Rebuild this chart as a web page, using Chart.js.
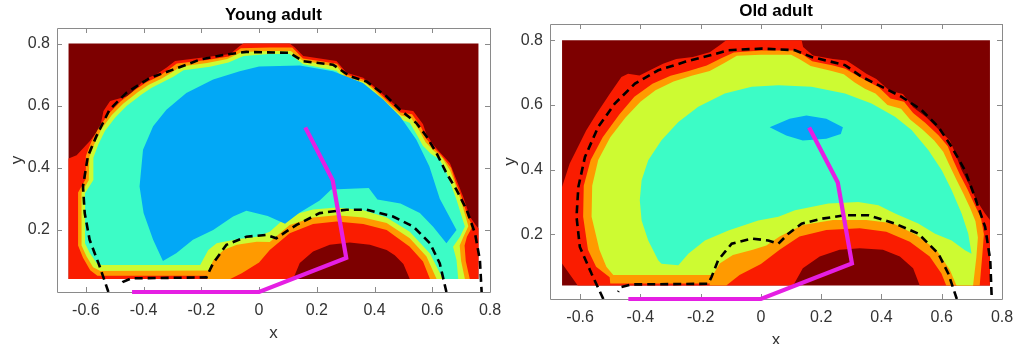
<!DOCTYPE html>
<html>
<head>
<meta charset="utf-8">
<script src="https://cdn.jsdelivr.net/npm/chart.js@4.4.1/dist/chart.umd.min.js"></script>
<style>
  html, body { margin: 0; padding: 0; background: #fff; }
  #wrap { position: relative; width: 1024px; height: 344px; overflow: hidden; }
  canvas { position: absolute; top: 0; }
  #young { left: 0; }
  #old { left: 496px; }
</style>
</head>
<body>
<div id="wrap">
  <canvas id="young" width="512" height="344"></canvas>
  <canvas id="old" width="528" height="344"></canvas>
</div>
<script>
// axis ticks
const xTicks = [-0.6, -0.4, -0.2, 0, 0.2, 0.4, 0.6, 0.8];
const yTicks = [0.2, 0.4, 0.6, 0.8];

// rectangle covered by the contour grid
const field = [[-0.66, 0.042], [-0.66, 0.8], [0.76, 0.8], [0.76, 0.042]];

// arm path (same on both panels)
const arm = [[0.16, 0.53], [0.255, 0.36], [0.302, 0.11], [0, 0], [-0.44, 0]];

// ---- Young adult: filled contour levels (outer to inner) ----
const youngRed = [[-0.66,0.43],[-0.632,0.44],[-0.586,0.486],[-0.551,0.529],[-0.539,0.583],[-0.516,0.615],[-0.453,0.631],[-0.424,0.658],[-0.395,0.685],[-0.355,0.701],[-0.32,0.723],[-0.291,0.744],[-0.181,0.757],[-0.10,0.766],[-0.066,0.793],[-0.054,0.80],[0.106,0.80],[0.124,0.787],[0.153,0.760],[0.268,0.744],[0.303,0.706],[0.361,0.690],[0.395,0.664],[0.442,0.626],[0.488,0.588],[0.534,0.583],[0.568,0.540],[0.580,0.507],[0.603,0.475],[0.626,0.45],[0.661,0.415],[0.684,0.361],[0.707,0.307],[0.730,0.243],[0.754,0.211],[0.76,0.205],[0.76,0.042],[0.522,0.042],[0.50,0.09],[0.47,0.118],[0.442,0.135],[0.384,0.152],[0.314,0.159],[0.245,0.152],[0.187,0.130],[0.141,0.093],[0.118,0.042],[-0.66,0.042]];
const youngOrange = [[-0.56,0.052],[-0.585,0.07],[-0.61,0.11],[-0.627,0.15],[-0.627,0.32],[-0.60,0.365],[-0.60,0.438],[-0.582,0.482],[-0.556,0.528],[-0.52,0.575],[-0.48,0.613],[-0.43,0.65],[-0.39,0.675],[-0.35,0.693],[-0.315,0.715],[-0.285,0.736],[-0.18,0.747],[-0.105,0.758],[-0.063,0.785],[0.037,0.787],[0.115,0.787],[0.152,0.752],[0.27,0.735],[0.302,0.70],[0.363,0.683],[0.398,0.656],[0.445,0.616],[0.49,0.578],[0.53,0.572],[0.562,0.53],[0.578,0.495],[0.604,0.465],[0.631,0.44],[0.665,0.40],[0.682,0.352],[0.702,0.305],[0.722,0.245],[0.74,0.212],[0.72,0.178],[0.712,0.15],[0.716,0.10],[0.73,0.042],[0.592,0.042],[0.568,0.098],[0.522,0.146],[0.442,0.2],[0.361,0.219],[0.268,0.227],[0.187,0.219],[0.106,0.189],[0.037,0.135],[0.0,0.095],[-0.06,0.06],[-0.10,0.042],[-0.18,0.042],[-0.18,0.052]];
const youngYellow = [[-0.55,0.068],[-0.575,0.08],[-0.598,0.115],[-0.615,0.15],[-0.615,0.32],[-0.590,0.36],[-0.588,0.435],[-0.570,0.478],[-0.546,0.525],[-0.51,0.57],[-0.47,0.607],[-0.418,0.645],[-0.382,0.667],[-0.34,0.686],[-0.305,0.705],[-0.272,0.726],[-0.18,0.737],[-0.11,0.750],[-0.06,0.773],[0.037,0.776],[0.11,0.776],[0.15,0.745],[0.27,0.725],[0.30,0.692],[0.365,0.676],[0.40,0.648],[0.447,0.606],[0.492,0.568],[0.527,0.56],[0.555,0.52],[0.577,0.482],[0.605,0.455],[0.636,0.43],[0.662,0.39],[0.68,0.345],[0.697,0.3],[0.715,0.245],[0.725,0.212],[0.708,0.178],[0.695,0.15],[0.700,0.10],[0.713,0.042],[0.615,0.042],[0.580,0.114],[0.522,0.173],[0.442,0.222],[0.361,0.240],[0.268,0.247],[0.187,0.240],[0.106,0.216],[0.037,0.161],[-0.008,0.162],[-0.077,0.152],[-0.123,0.135],[-0.158,0.103],[-0.175,0.069]];
const youngAqua = [[-0.545,0.087],[-0.563,0.093],[-0.586,0.125],[-0.603,0.157],[-0.603,0.318],[-0.574,0.361],[-0.574,0.432],[-0.557,0.475],[-0.534,0.518],[-0.499,0.561],[-0.459,0.599],[-0.407,0.636],[-0.372,0.658],[-0.331,0.677],[-0.297,0.693],[-0.262,0.714],[-0.17,0.725],[-0.106,0.739],[-0.054,0.760],[0.037,0.766],[0.106,0.766],[0.153,0.733],[0.268,0.712],[0.303,0.68],[0.361,0.664],[0.395,0.637],[0.442,0.594],[0.488,0.556],[0.522,0.545],[0.546,0.507],[0.568,0.47],[0.595,0.445],[0.626,0.426],[0.65,0.383],[0.667,0.34],[0.684,0.297],[0.702,0.243],[0.713,0.211],[0.696,0.178],[0.672,0.146],[0.684,0.103],[0.69,0.042],[0.637,0.042],[0.592,0.124],[0.522,0.194],[0.442,0.240],[0.361,0.263],[0.268,0.272],[0.187,0.266],[0.096,0.243],[0.037,0.194],[-0.008,0.178],[-0.077,0.170],[-0.147,0.157],[-0.176,0.135],[-0.204,0.087]];
const youngBlue = [[-0.333,0.10],[-0.367,0.168],[-0.40,0.254],[-0.414,0.34],[-0.402,0.458],[-0.367,0.534],[-0.321,0.587],[-0.252,0.641],[-0.159,0.684],[-0.067,0.711],[0.0,0.726],[0.141,0.729],[0.256,0.711],[0.36,0.673],[0.43,0.62],[0.488,0.566],[0.545,0.49],[0.59,0.404],[0.626,0.30],[0.684,0.2],[0.649,0.157],[0.603,0.21],[0.557,0.254],[0.49,0.285],[0.41,0.298],[0.38,0.335],[0.25,0.33],[0.21,0.295],[0.14,0.255],[0.09,0.22],[0.03,0.245],[-0.044,0.262],[-0.09,0.243],[-0.159,0.2],[-0.229,0.168],[-0.287,0.125]];
// boundary contour (dashed)
const youngDashOuter = [[-0.522,0.0],[-0.552,0.082],[-0.587,0.168],[-0.604,0.254],[-0.61,0.34],[-0.593,0.437],[-0.564,0.501],[-0.518,0.587],[-0.46,0.641],[-0.379,0.689],[-0.298,0.716],[-0.206,0.748],[-0.113,0.765],[-0.044,0.773],[0.106,0.77],[0.153,0.743],[0.256,0.732],[0.314,0.695],[0.372,0.678],[0.441,0.63],[0.488,0.587],[0.545,0.544],[0.58,0.501],[0.615,0.447],[0.649,0.383],[0.684,0.329],[0.719,0.265],[0.748,0.189],[0.765,0.103],[0.771,0.0]];
const youngDashInner = [[0.649,0.0],[0.626,0.092],[0.592,0.157],[0.534,0.211],[0.464,0.243],[0.372,0.265],[0.303,0.265],[0.21,0.254],[0.13,0.216],[0.095,0.195],[0.06,0.173],[0.026,0.184],[-0.044,0.178],[-0.113,0.152],[-0.159,0.093],[-0.18,0.052],[-0.182,0.047],[-0.442,0.044],[-0.471,0.033],[-0.485,0.02]];

// ---- Old adult ----
const oldRed = [[-0.66,0.346],[-0.635,0.418],[-0.613,0.459],[-0.58,0.521],[-0.546,0.572],[-0.502,0.634],[-0.463,0.686],[-0.441,0.696],[-0.403,0.691],[-0.37,0.706],[-0.325,0.727],[-0.281,0.742],[-0.226,0.748],[-0.170,0.763],[-0.137,0.784],[-0.115,0.80],[0.135,0.80],[0.14,0.779],[0.173,0.753],[0.239,0.742],[0.284,0.737],[0.317,0.717],[0.35,0.696],[0.383,0.68],[0.427,0.644],[0.471,0.634],[0.505,0.593],[0.549,0.562],[0.593,0.521],[0.627,0.49],[0.645,0.45],[0.665,0.40],[0.69,0.355],[0.715,0.306],[0.743,0.265],[0.76,0.244],[0.76,0.042],[0.527,0.042],[0.505,0.095],[0.461,0.131],[0.405,0.152],[0.328,0.157],[0.261,0.152],[0.195,0.131],[0.139,0.095],[0.107,0.042],[-0.608,0.042],[-0.66,0.110]];
const oldOrange = [[-0.50,0.048],[-0.502,0.067],[-0.547,0.10],[-0.574,0.152],[-0.59,0.254],[-0.588,0.35],[-0.565,0.43],[-0.525,0.50],[-0.47,0.57],[-0.42,0.625],[-0.36,0.665],[-0.30,0.69],[-0.24,0.705],[-0.18,0.722],[-0.13,0.745],[-0.09,0.762],[0.0,0.768],[0.11,0.768],[0.14,0.755],[0.17,0.735],[0.24,0.722],[0.28,0.712],[0.32,0.69],[0.355,0.672],[0.39,0.655],[0.43,0.62],[0.475,0.61],[0.505,0.575],[0.545,0.545],[0.59,0.505],[0.62,0.472],[0.638,0.43],[0.66,0.385],[0.685,0.34],[0.71,0.29],[0.73,0.25],[0.74,0.20],[0.735,0.14],[0.726,0.042],[0.615,0.042],[0.599,0.079],[0.56,0.131],[0.494,0.177],[0.416,0.208],[0.328,0.219],[0.217,0.213],[0.128,0.193],[0.062,0.152],[0.0,0.108],[-0.071,0.074],[-0.115,0.042],[-0.17,0.042],[-0.17,0.048]];
const oldYellow = [[-0.49,0.074],[-0.513,0.10],[-0.536,0.152],[-0.562,0.254],[-0.56,0.35],[-0.54,0.43],[-0.50,0.50],[-0.45,0.56],[-0.40,0.61],[-0.35,0.645],[-0.29,0.672],[-0.23,0.69],[-0.17,0.705],[-0.12,0.73],[-0.08,0.752],[0.0,0.755],[0.10,0.755],[0.13,0.74],[0.165,0.72],[0.235,0.705],[0.275,0.695],[0.31,0.67],[0.345,0.65],[0.38,0.635],[0.42,0.60],[0.465,0.588],[0.495,0.555],[0.535,0.525],[0.575,0.49],[0.605,0.455],[0.625,0.415],[0.648,0.37],[0.672,0.325],[0.695,0.28],[0.712,0.24],[0.72,0.19],[0.715,0.13],[0.704,0.042],[0.649,0.042],[0.627,0.09],[0.582,0.152],[0.516,0.198],[0.438,0.234],[0.35,0.244],[0.239,0.244],[0.139,0.229],[0.062,0.193],[0.018,0.165],[-0.027,0.152],[-0.093,0.136],[-0.137,0.110],[-0.159,0.074]];
const oldAqua = [[-0.33,0.109],[-0.341,0.12],[-0.374,0.181],[-0.396,0.243],[-0.402,0.305],[-0.396,0.367],[-0.374,0.429],[-0.33,0.491],[-0.274,0.547],[-0.208,0.594],[-0.12,0.635],[-0.031,0.656],[0.058,0.661],[0.168,0.656],[0.279,0.635],[0.367,0.604],[0.445,0.563],[0.5,0.522],[0.556,0.46],[0.6,0.398],[0.633,0.336],[0.666,0.264],[0.688,0.202],[0.699,0.14],[0.677,0.151],[0.633,0.181],[0.578,0.202],[0.522,0.233],[0.445,0.264],[0.39,0.29],[0.323,0.3],[0.224,0.295],[0.113,0.274],[0.058,0.254],[-0.009,0.243],[-0.108,0.212],[-0.186,0.181],[-0.241,0.14],[-0.274,0.104]];
const oldBlue = [[0.029,0.531],[0.095,0.557],[0.151,0.567],[0.217,0.557],[0.272,0.531],[0.265,0.51],[0.217,0.495],[0.139,0.49],[0.084,0.505]];
const oldDashOuter = [[-0.523,0.0],[-0.562,0.078],[-0.601,0.161],[-0.612,0.254],[-0.606,0.346],[-0.584,0.439],[-0.540,0.532],[-0.485,0.604],[-0.418,0.666],[-0.341,0.707],[-0.252,0.733],[-0.164,0.754],[-0.108,0.769],[0.002,0.774],[0.113,0.769],[0.168,0.748],[0.279,0.723],[0.334,0.687],[0.39,0.661],[0.467,0.625],[0.533,0.584],[0.589,0.532],[0.633,0.47],[0.677,0.398],[0.71,0.315],[0.744,0.223],[0.761,0.12],[0.766,0.0]];
const oldDashInner = [[0.65,0.0],[0.622,0.078],[0.589,0.14],[0.522,0.202],[0.445,0.233],[0.356,0.259],[0.279,0.259],[0.201,0.248],[0.135,0.233],[0.091,0.202],[0.058,0.171],[0.024,0.181],[-0.031,0.187],[-0.097,0.171],[-0.142,0.12],[-0.164,0.068],[-0.175,0.047],[-0.429,0.045],[-0.463,0.037],[-0.474,0.022]];

// jet-like level colours
const levelColors = {
  bg: '#7d0000',
  red: '#fa1c00',
  orange: '#ff9a00',
  yellow: '#cdfb32',
  aqua: '#3cfcc6',
  blue: '#02a8f6'
};

const toXY = (arr) => arr.map(([x, y]) => ({ x, y }));

// fills scatter datasets flagged as polygons, using the points the scales placed
const polygonFill = {
  id: 'polygonFill',
  beforeDatasetDraw(chart, args) {
    const ds = chart.data.datasets[args.index];
    if (!ds.polygon) return;
    const pts = args.meta.data;
    const { ctx, chartArea: a } = chart;
    ctx.save();
    ctx.beginPath();
    ctx.rect(a.left, a.top, a.right - a.left, a.bottom - a.top);
    ctx.clip();
    ctx.beginPath();
    pts.forEach((p, i) => (i ? ctx.lineTo(p.x, p.y) : ctx.moveTo(p.x, p.y)));
    ctx.closePath();
    ctx.fillStyle = ds.backgroundColor;
    ctx.fill();
    ctx.restore();
  }
};

// box, inward ticks and the titles
const frame = {
  id: 'frame',
  beforeDatasetsDraw(chart, args, opts) {
    const { ctx, chartArea: a, scales } = chart;
    ctx.save();
    ctx.strokeStyle = '#8a8a8a';
    ctx.lineWidth = 1;
    ctx.beginPath();
    ctx.rect(Math.round(a.left) + 0.5, Math.round(a.top) + 0.5,
      Math.round(a.right - a.left), Math.round(a.bottom - a.top));
    const tl = 5;
    xTicks.forEach((v) => {
      const px = Math.round(scales.x.getPixelForValue(v)) + 0.5;
      ctx.moveTo(px, a.bottom); ctx.lineTo(px, a.bottom - tl);
      ctx.moveTo(px, a.top); ctx.lineTo(px, a.top + tl);
    });
    yTicks.forEach((v) => {
      const py = Math.round(scales.y.getPixelForValue(v)) + 0.5;
      ctx.moveTo(a.left, py); ctx.lineTo(a.left + tl, py);
      ctx.moveTo(a.right, py); ctx.lineTo(a.right - tl, py);
    });
    ctx.stroke();
    ctx.restore();
  },
  afterDraw(chart, args, opts) {
    const { ctx, chartArea: a } = chart;
    const cx = (a.left + a.right) / 2;
    ctx.save();
    ctx.textAlign = 'center';
    ctx.textBaseline = 'middle';
    ctx.fillStyle = '#000';
    ctx.font = 'bold 17px "Liberation Sans", Arial, sans-serif';
    ctx.fillText(opts.title, cx, a.top - 13);
    ctx.fillStyle = '#333';
    ctx.font = '17px "Liberation Sans", Arial, sans-serif';
    ctx.fillText('x', cx, a.bottom + 41);
    ctx.translate(a.left - 40, (a.top + a.bottom) / 2);
    ctx.rotate(-Math.PI / 2);
    ctx.fillText('y', 0, 0);
    ctx.restore();
  }
};

function polygon(data, color, order) {
  return {
    data: toXY(data), polygon: true, backgroundColor: color,
    showLine: false, pointRadius: 0, pointHoverRadius: 0, order
  };
}

function dashed(data) {
  return {
    data: toXY(data), showLine: true, borderColor: '#000', borderWidth: 2.6,
    borderDash: [8, 5], pointRadius: 0, pointHoverRadius: 0, fill: false, order: 1
  };
}

function makePanel(id, title, layers, dashes, pad) {
  const tickFont = { family: '"Liberation Sans", Arial, sans-serif', size: 16 };
  const datasets = [
    polygon(field, levelColors.bg, 10),
    polygon(layers.red, levelColors.red, 9),
    polygon(layers.orange, levelColors.orange, 8),
    polygon(layers.yellow, levelColors.yellow, 7),
    polygon(layers.aqua, levelColors.aqua, 6),
    polygon(layers.blue, levelColors.blue, 5),
    dashed(dashes[0]),
    dashed(dashes[1]),
    {
      data: toXY(arm), showLine: true, borderColor: '#e51fe3', borderWidth: 4.2,
      pointRadius: 0, pointHoverRadius: 0, fill: false, clip: false, order: 0
    }
  ];
  return new Chart(document.getElementById(id), {
    type: 'scatter',
    data: { datasets },
    plugins: [polygonFill, frame],
    options: {
      responsive: false,
      animation: false,
      events: [],
      layout: { padding: { top: pad.top, right: pad.right, left: 0, bottom: 0 } },
      plugins: {
        legend: { display: false },
        tooltip: { enabled: false },
        frame: { title }
      },
      scales: {
        x: {
          type: 'linear', min: -0.7, max: 0.8,
          afterBuildTicks: (s) => { s.ticks = xTicks.map((v) => ({ value: v })); },
          afterFit: (s) => { s.height = pad.xh; },
          grid: { display: false, drawTicks: false },
          border: { display: false },
          ticks: {
            font: tickFont, color: '#333', padding: 9, maxRotation: 0,
            callback: (v) => String(Math.round(v * 10) / 10)
          }
        },
        y: {
          type: 'linear', min: 0, max: 0.85,
          afterBuildTicks: (s) => { s.ticks = yTicks.map((v) => ({ value: v })); },
          afterFit: (s) => { s.width = pad.yw; },
          grid: { display: false, drawTicks: false },
          border: { display: false },
          ticks: {
            font: tickFont, color: '#333', padding: 7,
            callback: (v) => String(Math.round(v * 10) / 10)
          }
        }
      }
    }
  });
}

makePanel('young', 'Young adult',
  { red: youngRed, orange: youngOrange, yellow: youngYellow, aqua: youngAqua, blue: youngBlue },
  [youngDashOuter, youngDashInner],
  { top: 28, right: 22, xh: 52, yw: 57 });

makePanel('old', 'Old adult',
  { red: oldRed, orange: oldOrange, yellow: oldYellow, aqua: oldAqua, blue: oldBlue },
  [oldDashOuter, oldDashInner],
  { top: 24, right: 22, xh: 45, yw: 54 });
</script>
</body>
</html>
